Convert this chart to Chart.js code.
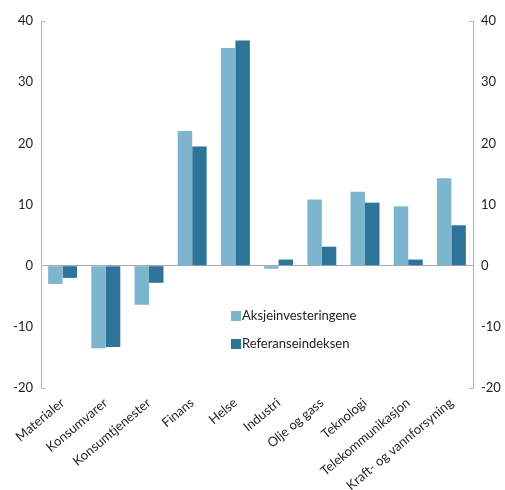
<!DOCTYPE html>
<html>
<head>
<meta charset="utf-8">
<script src="https://cdn.jsdelivr.net/npm/chart.js@4.4.1/dist/chart.umd.min.js"></script>
<style>
  html, body { margin: 0; padding: 0; background: #fff; }
  #wrap { width: 505px; height: 490px; }
</style>
</head>
<body>
<div id="wrap"><canvas id="c" width="505" height="490"></canvas></div>
<script>
// Sector returns, per cent
const sectors = ['Materialer', 'Konsumvarer', 'Konsumtjenester', 'Finans', 'Helse', 'Industri',
                 'Olje og gass', 'Teknologi', 'Telekommunikasjon', 'Kraft- og vannforsyning'];
const seriesNames = ['Aksjeinvesteringene', 'Referanseindeksen'];
const aksjeinvesteringene = [-3.0, -13.5, -6.4, 22.0, 35.6, -0.5, 10.8, 12.1, 9.7, 14.3];
const referanseindeksen   = [-2.0, -13.3, -2.8, 19.5, 36.8, 1.0, 3.1, 10.3, 1.0, 6.6];
const yTicks = [-20, -10, 0, 10, 20, 30, 40];

const LIGHT = '#7db5cf';
const DARK = '#2e7399';
const AXIS = '#b5b5b5';
const FONT = 'Lato, "Noto Sans", sans-serif';

// Legend drawn inside the plot area
const innerLegend = {
  id: 'innerLegend',
  afterDraw(chart) {
    const { ctx, chartArea } = chart;
    const x = chartArea.left + 190;
    let y = chartArea.top + 295;
    ctx.save();
    ctx.font = '13px ' + FONT;
    ctx.textBaseline = 'middle';
    chart.data.datasets.forEach(ds => {
      ctx.fillStyle = ds.backgroundColor;
      ctx.fillRect(x, y - 5, 10, 10);
      ctx.fillStyle = '#222';
      ctx.fillText(ds.label, x + 11, y);
      y += 28;
    });
    ctx.restore();
  }
};

// Short inward ticks at the ends of both value axes
const axisEnds = {
  id: 'axisEnds',
  afterDraw(chart) {
    const { ctx, chartArea: a } = chart;
    ctx.save();
    ctx.strokeStyle = AXIS;
    ctx.lineWidth = 1;
    ctx.beginPath();
    [a.top, a.bottom].forEach(yy => {
      const py = Math.round(yy) + 0.5;
      ctx.moveTo(a.left, py); ctx.lineTo(a.left + 4, py);
      ctx.moveTo(a.right - 4, py); ctx.lineTo(a.right, py);
    });
    ctx.stroke();
    ctx.restore();
  }
};

const valueTicks = {
  color: '#222',
  font: { family: FONT, size: 13 },
  autoSkip: false,
  padding: 8
};

new Chart(document.getElementById('c'), {
  type: 'bar',
  data: {
    labels: sectors,
    datasets: [
      { label: seriesNames[0], data: aksjeinvesteringene, backgroundColor: LIGHT },
      { label: seriesNames[1], data: referanseindeksen, backgroundColor: DARK }
    ]
  },
  options: {
    responsive: false,
    animation: false,
    layout: { padding: { top: 21, right: 0, bottom: 0, left: 0 } },
    datasets: { bar: { categoryPercentage: 0.67, barPercentage: 1.0, borderWidth: 0 } },
    plugins: { legend: { display: false }, tooltip: { enabled: false } },
    scales: {
      x: {
        offset: true,
        grid: { display: false, drawTicks: false },
        border: { display: false },
        ticks: {
          color: '#222',
          font: { family: FONT, size: 13 },
          autoSkip: false,
          minRotation: 40,
          maxRotation: 40,
          padding: 7
        },
        afterFit(s) { s.height = 102; }
      },
      y: {
        position: 'left',
        min: -20, max: 40,
        afterBuildTicks(s) { s.ticks = yTicks.map(v => ({ value: v })); },
        grid: {
          drawTicks: false,
          color: ctx => (ctx.tick && ctx.tick.value === 0 ? '#a9a9a9' : 'rgba(0,0,0,0)'),
          lineWidth: 1
        },
        border: { display: true, color: AXIS, width: 1 },
        ticks: Object.assign({}, valueTicks),
        afterFit(s) { s.width = 41; }
      },
      y2: {
        position: 'right',
        min: -20, max: 40,
        afterBuildTicks(s) { s.ticks = yTicks.map(v => ({ value: v })); },
        grid: { display: false, drawTicks: false },
        border: { display: true, color: AXIS, width: 1 },
        ticks: Object.assign({}, valueTicks),
        afterFit(s) { s.width = 32; }
      }
    }
  },
  plugins: [innerLegend, axisEnds]
});
</script>
</body>
</html>
